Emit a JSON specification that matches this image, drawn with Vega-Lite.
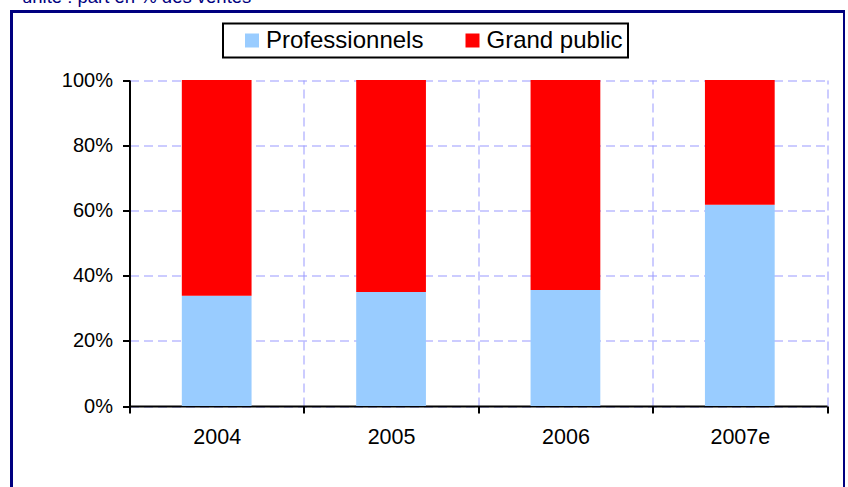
{
  "$schema": "https://vega.github.io/schema/vega-lite/v6.json",
  "autosize": "none",
  "padding": {"left": 11.5, "top": 11.5, "right": 0, "bottom": 0},
  "width": 833,
  "height": 480,
  "background": "white",
  "title": {
    "text": "unité : part en % des ventes",
    "anchor": "start",
    "fontSize": 18.5,
    "font": "Liberation Sans",
    "fontWeight": "normal",
    "color": "#000080",
    "baseline": "alphabetic",
    "offset": -10,
    "dx": 10.5
  },
  "data": {
    "values": [
      {"year": "2004", "segment": "Professionnels", "share": 33.8},
      {"year": "2004", "segment": "Grand public", "share": 66.2},
      {"year": "2005", "segment": "Professionnels", "share": 35.0},
      {"year": "2005", "segment": "Grand public", "share": 65.0},
      {"year": "2006", "segment": "Professionnels", "share": 35.6},
      {"year": "2006", "segment": "Grand public", "share": 64.4},
      {"year": "2007e", "segment": "Professionnels", "share": 61.7},
      {"year": "2007e", "segment": "Grand public", "share": 38.3}
    ]
  },
  "layer": [
    {
      "mark": {"type": "bar", "width": {"band": 0.4}},
      "encoding": {
        "x": {
          "field": "year",
          "type": "nominal",
          "sort": null,
          "scale": {"range": [118, 815.5], "paddingInner": 0, "paddingOuter": 0},
          "axis": {
            "title": null,
            "orient": "bottom",
            "offset": -85.5,
            "grid": false,
            "tickBand": "extent",
            "labelAngle": 0,
            "tickSize": 7,
            "labelFontSize": 21.5,
            "labelPadding": 13
          }
        },
        "y": {
          "field": "share",
          "type": "quantitative",
          "stack": "normalize",
          "scale": {"domain": [0, 1], "range": [394.5, 68.5]},
          "axis": {
            "title": null,
            "orient": "left",
            "offset": -118,
            "values": [0, 0.2, 0.4, 0.6, 0.8, 1],
            "format": ".0%",
            "tickSize": 7,
            "labelPadding": 10,
            "grid": true
          }
        },
        "color": {
          "field": "segment",
          "type": "nominal",
          "sort": ["Professionnels", "Grand public"],
          "scale": {"domain": ["Professionnels", "Grand public"], "range": ["#99ccff", "#ff0000"]},
          "legend": {
            "title": null,
            "orient": "none",
            "legendX": 211.5,
            "legendY": 12,
            "direction": "horizontal"
          }
        }
      }
    },
    {
      "mark": {"type": "bar", "width": {"band": 0.4}, "opacity": 0},
      "encoding": {
        "x": {
          "field": "year",
          "type": "nominal",
          "sort": null,
          "axis": {
            "title": null,
            "orient": "top",
            "grid": true,
            "tickBand": "extent",
            "domain": false,
            "ticks": false,
            "labels": false
          }
        },
        "y": {
          "field": "share",
          "type": "quantitative",
          "stack": "normalize"
        }
      }
    }
  ],
  "resolve": {"axis": {"x": "independent"}},
  "config": {
    "view": {"stroke": "#000080", "strokeWidth": 3, "fill": "white"},
    "axis": {
      "labelFont": "Liberation Sans",
      "labelFontSize": 20,
      "labelColor": "black",
      "domainColor": "black",
      "domainWidth": 2,
      "tickColor": "black",
      "tickWidth": 2,
      "gridColor": "#9999ff",
      "gridDash": [9, 5],
      "gridWidth": 1,
      "gridOpacity": 1
    },
    "legend": {
      "labelFont": "Liberation Sans",
      "labelFontSize": 24,
      "labelColor": "black",
      "symbolType": "square",
      "symbolSize": 196,
      "symbolStrokeWidth": 0,
      "padding": 5,
      "strokeColor": "black",
      "strokeWidth": 2,
      "fillColor": "white",
      "symbolOffset": 12,
      "labelOffset": 2,
      "columnPadding": 24.5,
      "labelLimit": 300
    }
  }
}
